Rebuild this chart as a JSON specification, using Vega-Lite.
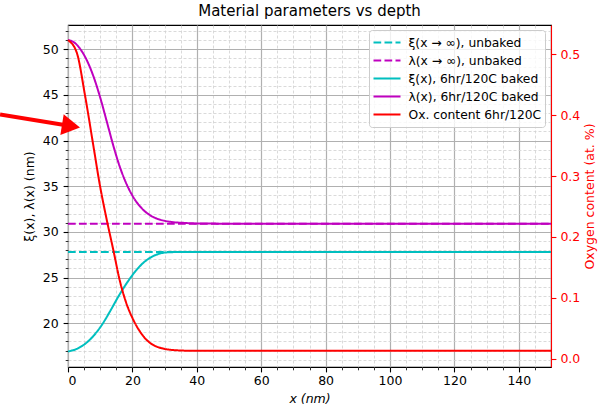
{
  "$schema": "https://vega.github.io/schema/vega-lite/v6.json",
  "width": 483,
  "height": 342,
  "autosize": {"type": "none"},
  "padding": {"left": 68, "top": 25, "right": 53, "bottom": 39},
  "title": {"text": "Material parameters vs depth", "frame": "group", "anchor": "middle", "fontSize": 15, "fontWeight": "normal", "font": "DejaVu Sans", "color": "#000", "offset": 6},
  "datasets": {
    "limits": [
      {"s": "ξ(x → ∞), unbaked", "x": 0, "v": 27.8},
      {"s": "ξ(x → ∞), unbaked", "x": 150, "v": 27.8},
      {"s": "λ(x → ∞), unbaked", "x": 0, "v": 30.9},
      {"s": "λ(x → ∞), unbaked", "x": 150, "v": 30.9}
    ],
    "baked": [
      {"s": "ξ(x), 6hr/120C baked", "x": 0, "v": 16.9},
      {"s": "ξ(x), 6hr/120C baked", "x": 2.7, "v": 17.18},
      {"s": "ξ(x), 6hr/120C baked", "x": 5.3, "v": 17.73},
      {"s": "ξ(x), 6hr/120C baked", "x": 7.9, "v": 18.6},
      {"s": "ξ(x), 6hr/120C baked", "x": 10.5, "v": 19.8},
      {"s": "ξ(x), 6hr/120C baked", "x": 13.0, "v": 21.26},
      {"s": "ξ(x), 6hr/120C baked", "x": 15.6, "v": 22.89},
      {"s": "ξ(x), 6hr/120C baked", "x": 18.2, "v": 24.36},
      {"s": "ξ(x), 6hr/120C baked", "x": 20.8, "v": 25.62},
      {"s": "ξ(x), 6hr/120C baked", "x": 23.4, "v": 26.61},
      {"s": "ξ(x), 6hr/120C baked", "x": 26.0, "v": 27.26},
      {"s": "ξ(x), 6hr/120C baked", "x": 28.6, "v": 27.63},
      {"s": "ξ(x), 6hr/120C baked", "x": 31.1, "v": 27.76},
      {"s": "ξ(x), 6hr/120C baked", "x": 36, "v": 27.8},
      {"s": "ξ(x), 6hr/120C baked", "x": 150, "v": 27.8},
      {"s": "λ(x), 6hr/120C baked", "x": 0, "v": 51.0},
      {"s": "λ(x), 6hr/120C baked", "x": 2.0, "v": 50.72},
      {"s": "λ(x), 6hr/120C baked", "x": 3.7, "v": 50.08},
      {"s": "λ(x), 6hr/120C baked", "x": 5.8, "v": 48.82},
      {"s": "λ(x), 6hr/120C baked", "x": 7.9, "v": 47.03},
      {"s": "λ(x), 6hr/120C baked", "x": 9.9, "v": 44.83},
      {"s": "λ(x), 6hr/120C baked", "x": 12.0, "v": 42.14},
      {"s": "λ(x), 6hr/120C baked", "x": 14.1, "v": 39.41},
      {"s": "λ(x), 6hr/120C baked", "x": 16.1, "v": 37.11},
      {"s": "λ(x), 6hr/120C baked", "x": 18.2, "v": 35.22},
      {"s": "λ(x), 6hr/120C baked", "x": 20.3, "v": 33.79},
      {"s": "λ(x), 6hr/120C baked", "x": 23.4, "v": 32.4},
      {"s": "λ(x), 6hr/120C baked", "x": 26.5, "v": 31.62},
      {"s": "λ(x), 6hr/120C baked", "x": 28.6, "v": 31.33},
      {"s": "λ(x), 6hr/120C baked", "x": 32, "v": 31.09},
      {"s": "λ(x), 6hr/120C baked", "x": 36, "v": 30.98},
      {"s": "λ(x), 6hr/120C baked", "x": 40, "v": 30.92},
      {"s": "λ(x), 6hr/120C baked", "x": 46, "v": 30.9},
      {"s": "λ(x), 6hr/120C baked", "x": 150, "v": 30.9}
    ],
    "oxygen": [
      {"s": "Ox. content 6hr/120C", "x": 0, "o": 0.523},
      {"s": "Ox. content 6hr/120C", "x": 2.7, "o": 0.503},
      {"s": "Ox. content 6hr/120C", "x": 5.3, "o": 0.432},
      {"s": "Ox. content 6hr/120C", "x": 7.9, "o": 0.349},
      {"s": "Ox. content 6hr/120C", "x": 9.9, "o": 0.285},
      {"s": "Ox. content 6hr/120C", "x": 12.0, "o": 0.229},
      {"s": "Ox. content 6hr/120C", "x": 14.1, "o": 0.178},
      {"s": "Ox. content 6hr/120C", "x": 16.1, "o": 0.128},
      {"s": "Ox. content 6hr/120C", "x": 18.2, "o": 0.09},
      {"s": "Ox. content 6hr/120C", "x": 20.1, "o": 0.066},
      {"s": "Ox. content 6hr/120C", "x": 23.4, "o": 0.037},
      {"s": "Ox. content 6hr/120C", "x": 28.6, "o": 0.018},
      {"s": "Ox. content 6hr/120C", "x": 33.7, "o": 0.014},
      {"s": "Ox. content 6hr/120C", "x": 40, "o": 0.013},
      {"s": "Ox. content 6hr/120C", "x": 150, "o": 0.013}
    ],
    "arrowShaft": [
      {"x": -21.1, "v": 42.84},
      {"x": -0.6, "v": 41.68}
    ],
    "arrowHead": [
      {"x": 0.93, "v": 41.58}
    ]
  },
  "layer": [
    {
      "data": {"name": "limits"},
      "mark": {"type": "line", "strokeWidth": 2},
      "encoding": {
        "x": {"field": "x", "type": "quantitative", "scale": {"domain": [0, 150], "nice": false, "zero": false},
              "axis": {"orient": "bottom", "values": [5, 10, 15, 25, 30, 35, 45, 50, 55, 65, 70, 75, 85, 90, 95, 105, 110, 115, 125, 130, 135, 145], "labels": false, "domain": false, "tickSize": 2.8, "tickWidth": 0.8, "grid": true, "gridDash": [3, 2], "gridColor": "#d0d0d0", "gridWidth": 0.8, "title": null}},
        "y": {"field": "v", "type": "quantitative", "scale": {"domain": [15.2, 52.65], "nice": false, "zero": false},
              "axis": {"orient": "left", "values": [16, 17, 18, 19, 21, 22, 23, 24, 26, 27, 28, 29, 31, 32, 33, 34, 36, 37, 38, 39, 41, 42, 43, 44, 46, 47, 48, 49, 51, 52], "labels": false, "domain": false, "tickSize": 2.8, "tickWidth": 0.8, "grid": true, "gridDash": [3, 2], "gridColor": "#d0d0d0", "gridWidth": 0.8, "title": null}},
        "color": {"field": "s", "type": "nominal", "scale": {"domain": ["ξ(x → ∞), unbaked", "λ(x → ∞), unbaked", "ξ(x), 6hr/120C baked", "λ(x), 6hr/120C baked", "Ox. content 6hr/120C"], "range": ["#00bfbf", "#bf00bf", "#00bfbf", "#bf00bf", "#ff0000"]}, "legend": {"title": null}},
        "strokeDash": {"field": "s", "type": "nominal", "scale": {"domain": ["ξ(x → ∞), unbaked", "λ(x → ∞), unbaked", "ξ(x), 6hr/120C baked", "λ(x), 6hr/120C baked", "Ox. content 6hr/120C"], "range": [[7.7, 3.3], [7.7, 3.3], [1, 0], [1, 0], [1, 0]]}, "legend": {"title": null}}
      }
    },
    {
      "data": {"name": "baked"},
      "mark": {"type": "line", "strokeWidth": 2, "interpolate": "monotone"},
      "encoding": {
        "x": {"field": "x", "type": "quantitative", "scale": {"domain": [0, 150], "nice": false, "zero": false},
              "axis": {"orient": "bottom", "values": [0, 20, 40, 60, 80, 100, 120, 140], "domain": false, "tickSize": 4.9, "labelPadding": 3, "grid": true, "gridColor": "#b0b0b0", "gridWidth": 1.2, "title": "x (nm)", "titleFontStyle": "italic", "titlePadding": 5}},
        "y": {"field": "v", "type": "quantitative", "scale": {"domain": [15.2, 52.65], "nice": false, "zero": false},
              "axis": {"orient": "left", "values": [20, 25, 30, 35, 40, 45, 50], "domain": false, "tickSize": 4.9, "labelPadding": 5, "grid": true, "gridColor": "#b0b0b0", "gridWidth": 1.2, "title": "ξ(x), λ(x) (nm)", "titlePadding": 6}},
        "color": {"field": "s", "type": "nominal", "scale": {"domain": ["ξ(x → ∞), unbaked", "λ(x → ∞), unbaked", "ξ(x), 6hr/120C baked", "λ(x), 6hr/120C baked", "Ox. content 6hr/120C"], "range": ["#00bfbf", "#bf00bf", "#00bfbf", "#bf00bf", "#ff0000"]}, "legend": {"title": null}},
        "strokeDash": {"field": "s", "type": "nominal", "scale": {"domain": ["ξ(x → ∞), unbaked", "λ(x → ∞), unbaked", "ξ(x), 6hr/120C baked", "λ(x), 6hr/120C baked", "Ox. content 6hr/120C"], "range": [[7.7, 3.3], [7.7, 3.3], [1, 0], [1, 0], [1, 0]]}, "legend": {"title": null}}
      }
    },
    {
      "data": {"name": "oxygen"},
      "mark": {"type": "line", "strokeWidth": 2, "interpolate": "monotone"},
      "encoding": {
        "x": {"field": "x", "type": "quantitative", "scale": {"domain": [0, 150], "nice": false, "zero": false}, "axis": null},
        "y": {"field": "o", "type": "quantitative", "scale": {"domain": [-0.0135, 0.548], "nice": false, "zero": false},
              "axis": {"orient": "right", "values": [0, 0.1, 0.2, 0.3, 0.4, 0.5], "format": ".1f", "domain": true, "domainColor": "#ff0000", "domainWidth": 1.1, "tickColor": "#ff0000", "tickSize": 4.9, "labelPadding": 4, "labelColor": "#ff0000", "grid": false, "title": "Oxygen content (at. %)", "titleColor": "#ff0000", "titleAngle": 270, "titleBaseline": "top", "titlePadding": 4}},
        "color": {"field": "s", "type": "nominal", "scale": {"domain": ["ξ(x → ∞), unbaked", "λ(x → ∞), unbaked", "ξ(x), 6hr/120C baked", "λ(x), 6hr/120C baked", "Ox. content 6hr/120C"], "range": ["#00bfbf", "#bf00bf", "#00bfbf", "#bf00bf", "#ff0000"]}, "legend": {"title": null}},
        "strokeDash": {"field": "s", "type": "nominal", "scale": {"domain": ["ξ(x → ∞), unbaked", "λ(x → ∞), unbaked", "ξ(x), 6hr/120C baked", "λ(x), 6hr/120C baked", "Ox. content 6hr/120C"], "range": [[7.7, 3.3], [7.7, 3.3], [1, 0], [1, 0], [1, 0]]}, "legend": {"title": null}}
      }
    },
    {
      "data": {"name": "arrowShaft"},
      "mark": {"type": "line", "strokeWidth": 4, "color": "#ff0000", "strokeCap": "butt", "clip": false},
      "encoding": {
        "x": {"field": "x", "type": "quantitative", "scale": {"domain": [0, 150], "nice": false, "zero": false}, "axis": null},
        "y": {"field": "v", "type": "quantitative", "scale": {"domain": [15.2, 52.65], "nice": false, "zero": false}, "axis": null}
      }
    },
    {
      "data": {"name": "arrowHead"},
      "mark": {"type": "point", "shape": "triangle-right", "filled": true, "size": 441, "angle": 9.2, "color": "#ff0000", "opacity": 1, "strokeWidth": 0, "clip": false},
      "encoding": {
        "x": {"field": "x", "type": "quantitative", "scale": {"domain": [0, 150], "nice": false, "zero": false}, "axis": null},
        "y": {"field": "v", "type": "quantitative", "scale": {"domain": [15.2, 52.65], "nice": false, "zero": false}, "axis": null}
      }
    }
  ],
  "resolve": {"scale": {"y": "independent"}, "axis": {"x": "independent"}},
  "config": {
    "font": "DejaVu Sans",
    "view": {"stroke": "#000", "strokeWidth": 1.1},
    "axis": {"labelFont": "DejaVu Sans", "titleFont": "DejaVu Sans", "labelFontSize": 12.5, "titleFontSize": 12.5, "titleFontWeight": "normal", "labelColor": "#000", "titleColor": "#000", "tickColor": "#000", "tickWidth": 1.1},
    "legend": {"orient": "none", "legendX": 301, "legendY": 5, "symbolType": "stroke", "symbolSize": 729, "symbolStrokeWidth": 2, "clipHeight": 18, "rowPadding": 0, "labelOffset": 7, "labelFont": "DejaVu Sans", "labelFontSize": 12.3, "labelColor": "#000", "padding": 3.5, "fillColor": "rgba(255,255,255,0.8)", "strokeColor": "#cccccc", "cornerRadius": 3}
  }
}
